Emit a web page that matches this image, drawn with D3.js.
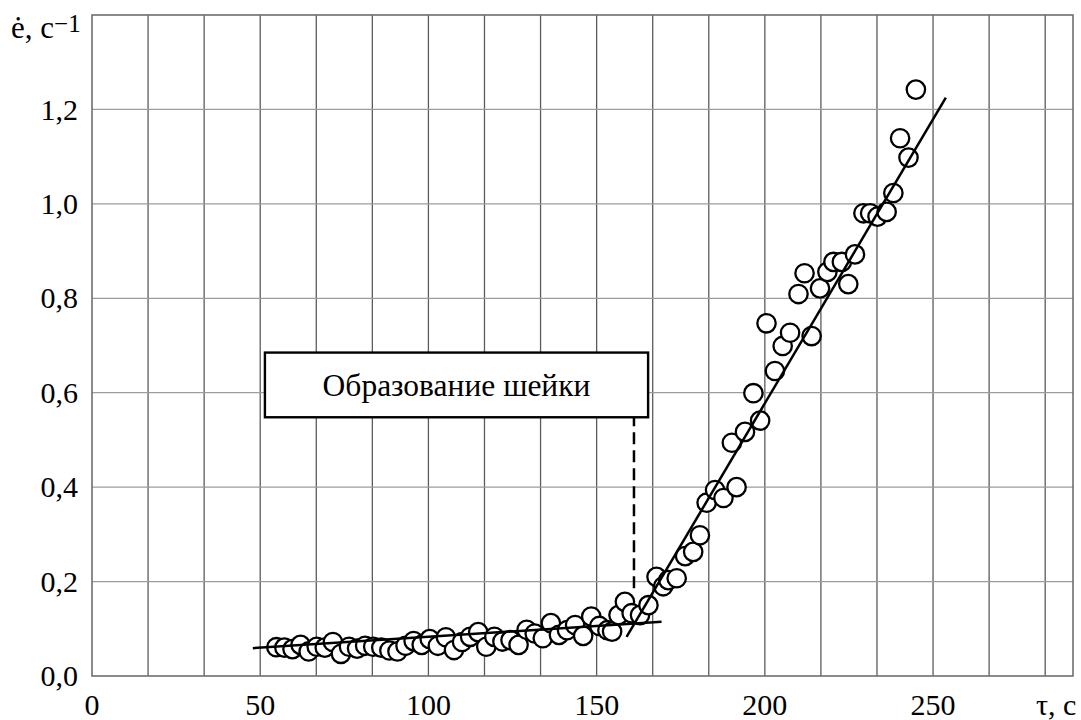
<!DOCTYPE html>
<html lang="ru">
<head>
    <meta charset="utf-8">
    <title>Скорость деформации</title>
    <script type="text/javascript" src="https://cdn.jsdelivr.net/npm/d3@7/dist/d3.min.js"></script>
    <style>
        body { margin: 0; background: #fff; }
        svg text { font-family: "Liberation Serif", "Times New Roman", serif; fill: #000; }
    </style>
</head>
<body>
<div id="chart"></div>
<script type="text/javascript">
    // measured points: time, s and strain rate, 1/s
    var tau = [54.8, 57.2, 59.6, 62.0, 64.4, 66.8, 69.2, 71.6, 74.0, 76.4,
        78.8, 81.2, 83.6, 86.0, 88.4, 90.8, 93.2, 95.6, 98.0, 100.4,
        102.8, 105.2, 107.6, 110.0, 112.4, 114.8, 117.2, 119.6, 122.0, 124.4,
        126.8, 129.2, 131.6, 134.0, 136.4, 138.8, 141.2, 143.6, 146.0, 148.4,
        150.8, 153.2, 154.6, 156.5, 158.4, 160.4, 162.9, 165.4, 167.8, 169.8,
        171.3, 173.8, 176.3, 178.7, 180.7, 182.7, 185.2, 187.7, 190.2, 191.6,
        194.1, 196.6, 198.6, 200.5, 203.0, 205.3, 207.5, 210.0, 211.8, 213.9,
        216.4, 218.6, 220.4, 222.9, 224.8, 226.8, 229.3, 231.3, 233.5, 236.2,
        238.2, 240.2, 242.7, 244.9];
    var rate = [0.061, 0.060, 0.057, 0.066, 0.052, 0.062, 0.060, 0.072, 0.047, 0.062,
        0.058, 0.064, 0.062, 0.060, 0.054, 0.052, 0.064, 0.074, 0.066, 0.078,
        0.064, 0.082, 0.055, 0.072, 0.083, 0.093, 0.062, 0.083, 0.073, 0.076,
        0.066, 0.098, 0.090, 0.080, 0.112, 0.087, 0.097, 0.108, 0.085, 0.126,
        0.106, 0.097, 0.094, 0.129, 0.157, 0.133, 0.129, 0.150, 0.210, 0.190,
        0.203, 0.207, 0.254, 0.263, 0.298, 0.367, 0.394, 0.377, 0.494, 0.400,
        0.517, 0.599, 0.541, 0.747, 0.646, 0.699, 0.727, 0.809, 0.853, 0.720,
        0.821, 0.856, 0.877, 0.877, 0.830, 0.893, 0.980, 0.980, 0.973, 0.983,
        1.023, 1.139, 1.098, 1.242];

    // two linear fits
    var fitLowTau = [47.8, 169.3];
    var fitLowRate = [0.059, 0.115];
    var fitHighTau = [158.9, 253.8];
    var fitHighRate = [0.083, 1.225];

    // neck formation marker
    var neckTau = 161.1;
    var neckRate = [0.186, 0.548];
    var boxTau = [51.4, 165.3];
    var boxRate = [0.548, 0.685];
    var boxLabel = "Образование шейки";

    var xTicks = [0, 50, 100, 150, 200, 250];
    var yTicks = [0, 0.2, 0.4, 0.6, 0.8, 1.0, 1.2];
    var xLabel = "τ, с";

    var w = 1081;
    var h = 720;
    var padL = 92, padT = 15, padR = 1073, padB = 676;

    var xScale = d3.scaleLinear().domain([0, 291.6]).range([padL, padR]);
    var yScale = d3.scaleLinear().domain([0, 1.4]).range([padB, padT]);

    var svg = d3.select("#chart").append("svg")
        .attr("width", w)
        .attr("height", h);

    // vertical grid every 50/3 s
    svg.append("g").selectAll("line")
        .data(d3.range(1, 18).map(function (i) { return i * 50 / 3; }))
        .enter().append("line")
        .attr("x1", function (d) { return xScale(d); })
        .attr("x2", function (d) { return xScale(d); })
        .attr("y1", padT)
        .attr("y2", padB)
        .attr("stroke", "#5c5c5c")
        .attr("stroke-width", 1.3);

    svg.append("g").selectAll("line")
        .data(yTicks.slice(1))
        .enter().append("line")
        .attr("x1", padL)
        .attr("x2", padR)
        .attr("y1", function (d) { return yScale(d); })
        .attr("y2", function (d) { return yScale(d); })
        .attr("stroke", "#9c9c9c")
        .attr("stroke-width", 1.3);

    svg.append("rect")
        .attr("x", padL)
        .attr("y", padT)
        .attr("width", padR - padL)
        .attr("height", padB - padT)
        .attr("fill", "none")
        .attr("stroke", "#6e6e6e")
        .attr("stroke-width", 1.6);

    // tick labels
    svg.append("g").selectAll("text")
        .data(xTicks)
        .enter().append("text")
        .attr("x", function (d) { return xScale(d); })
        .attr("y", 715)
        .attr("text-anchor", "middle")
        .attr("font-size", 30)
        .text(function (d) { return d; });

    svg.append("g").selectAll("text")
        .data(yTicks)
        .enter().append("text")
        .attr("x", 78)
        .attr("y", function (d) { return yScale(d); })
        .attr("dy", "0.34em")
        .attr("text-anchor", "end")
        .attr("font-size", 30)
        .text(function (d) { return d.toFixed(1).replace(".", ","); });

    svg.append("text")
        .attr("x", 1036)
        .attr("y", 715)
        .attr("font-size", 30)
        .text(xLabel);

    var yl = svg.append("text")
        .attr("x", 11)
        .attr("y", 38)
        .attr("font-size", 31);
    yl.append("tspan").text("ė, с");
    yl.append("tspan").attr("dy", -6).attr("font-size", 25).text("−1");

    // points
    svg.append("g").selectAll("circle")
        .data(d3.range(tau.length))
        .enter().append("circle")
        .attr("cx", function (i) { return xScale(tau[i]); })
        .attr("cy", function (i) { return yScale(rate[i]); })
        .attr("r", 9.2)
        .attr("fill", "white")
        .attr("stroke", "black")
        .attr("stroke-width", 2.3);

    var line = d3.line()
        .x(function (d) { return xScale(d[0]); })
        .y(function (d) { return yScale(d[1]); });

    svg.append("path")
        .attr("d", line(d3.zip(fitLowTau, fitLowRate)))
        .attr("fill", "none")
        .attr("stroke", "black")
        .attr("stroke-width", 2.5);

    svg.append("path")
        .attr("d", line(d3.zip(fitHighTau, fitHighRate)))
        .attr("fill", "none")
        .attr("stroke", "black")
        .attr("stroke-width", 2.5);

    svg.append("line")
        .attr("x1", xScale(neckTau))
        .attr("x2", xScale(neckTau))
        .attr("y1", yScale(neckRate[0]))
        .attr("y2", yScale(neckRate[1]))
        .attr("stroke", "black")
        .attr("stroke-width", 2.5)
        .attr("stroke-dasharray", "12,6");

    svg.append("rect")
        .attr("x", xScale(boxTau[0]))
        .attr("y", yScale(boxRate[1]))
        .attr("width", xScale(boxTau[1]) - xScale(boxTau[0]))
        .attr("height", yScale(boxRate[0]) - yScale(boxRate[1]))
        .attr("fill", "white")
        .attr("stroke", "black")
        .attr("stroke-width", 2.4);

    svg.append("text")
        .attr("x", (xScale(boxTau[0]) + xScale(boxTau[1])) / 2)
        .attr("y", 396)
        .attr("text-anchor", "middle")
        .attr("font-size", 31.5)
        .text(boxLabel);
</script>
</body>
</html>
